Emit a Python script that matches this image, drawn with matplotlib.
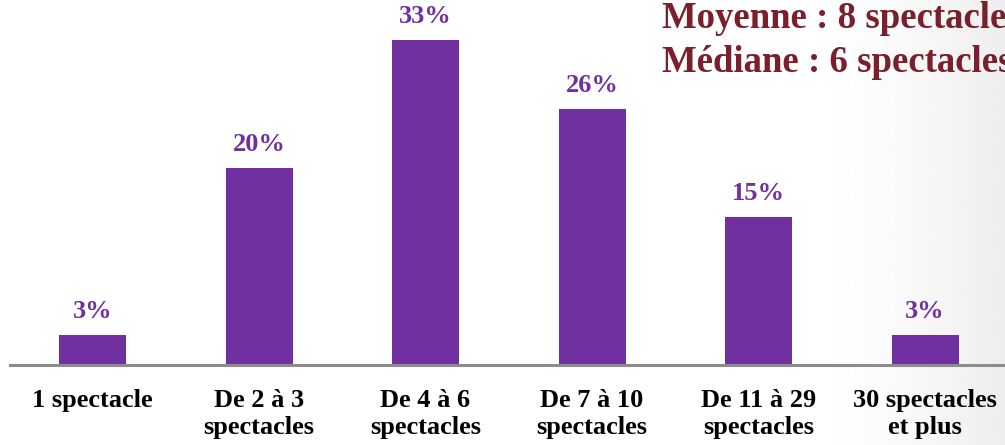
import numpy as np
import matplotlib.pyplot as plt

# data
categories = ['1 spectacle', 'De 2 à 3\nspectacles', 'De 4 à 6\nspectacles',
              'De 7 à 10\nspectacles', 'De 11 à 29\nspectacles', '30 spectacles\net plus']
values = [3, 20, 33, 26, 15, 3]
stats_lines = ['Moyenne : 8 spectacles', 'Médiane : 6 spectacles']

W, H = 1005, 445
fig = plt.figure(figsize=(W / 100, H / 100), dpi=100)
plt.rcParams['font.family'] = ['Liberation Serif', 'DejaVu Serif']

# soft grey fade on the right side of the slide
bg = fig.add_axes([0, 0, 1, 1], zorder=-10)
xx = np.linspace(0, 1, 400)
fade = np.clip((xx - 0.80) / 0.20, 0, 1) ** 1.6
grad = 1 - 0.07 * fade
bg.imshow(np.tile(grad, (50, 1)), cmap='gray', vmin=0, vmax=1, aspect='auto',
          extent=[0, 1, 0, 1])
bg.axis('off')

base = (H - 365) / H
ax = fig.add_axes([0, base, 1, 1 - base])
ax.patch.set_alpha(0)
step = 166.5
x0 = 92.5
ax.set_xlim(-x0 / step, (W - x0) / step)
ax.set_ylim(0, 365 / 9.85)

x = np.arange(len(values))
bars = ax.bar(x, values, width=67 / step, color='#7030A0', zorder=2)
for xi, v in zip(x, values):
    ax.annotate(f'{v}%', (xi, v), xytext=(0, 12.5), textcoords='offset points',
                ha='center', va='baseline', fontsize=19, fontweight='bold',
                color='#7030A0')

ax.axhline(0, xmin=10 / W, xmax=1, color='#8c8c8c', lw=2.2, zorder=3, clip_on=False)
for s in ax.spines.values():
    s.set_visible(False)
ax.set_xticks([])
ax.set_yticks([])

for xi, lab in zip(x, categories):
    ax.annotate(lab, (xi, 0), xytext=(0, -17), textcoords='offset points',
                ha='center', va='top', fontsize=19, fontweight='bold',
                color='black', linespacing=1.22, annotation_clip=False)

for i, line in enumerate(stats_lines):
    fig.text(662 / W, (H - 28 - 44 * i) / H, line, ha='left', va='baseline',
             fontsize=26.5, fontweight='bold', color='#7A1F2B')

fig.savefig('out.png', dpi=100)
